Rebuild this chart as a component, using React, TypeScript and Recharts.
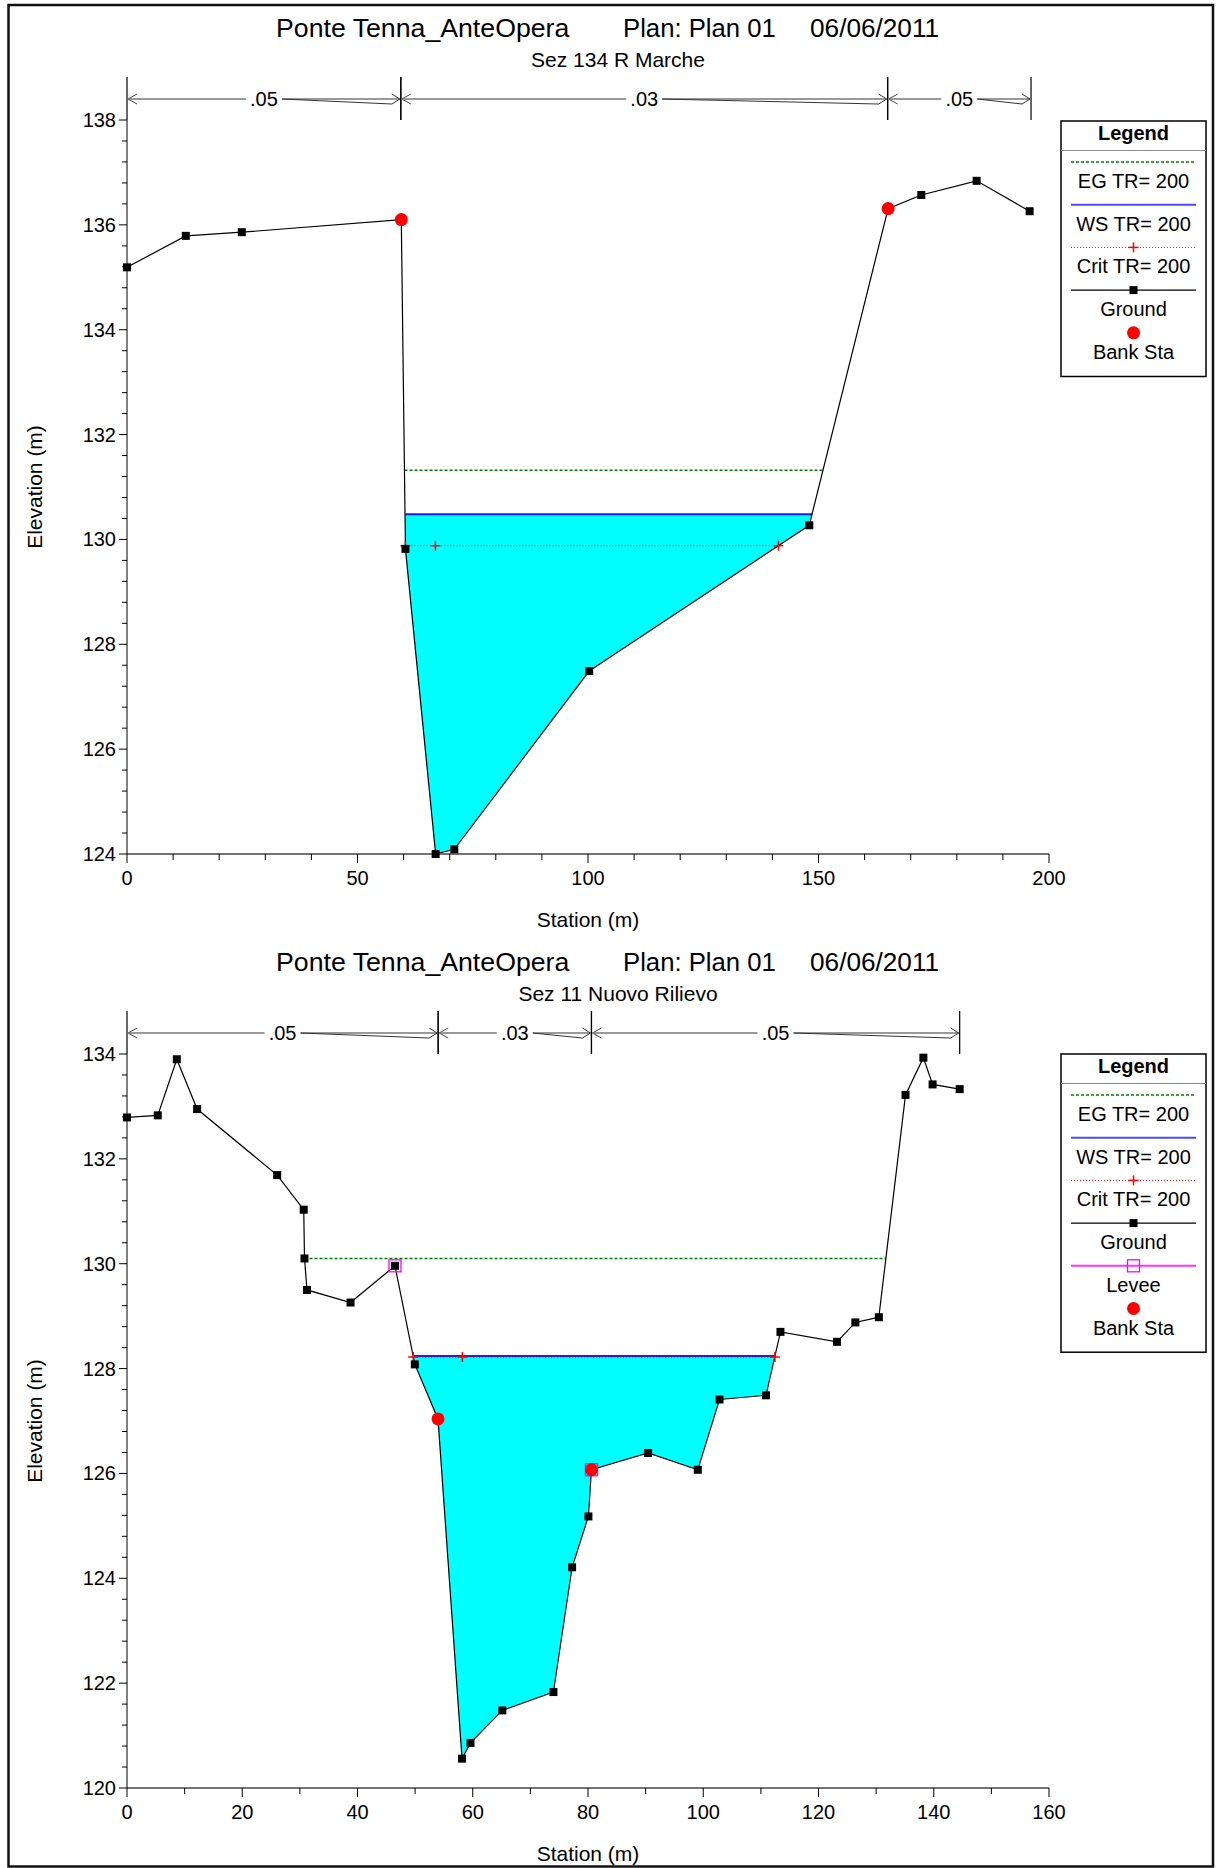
import React from 'react';
import { ComposedChart, Line, Area, XAxis, YAxis, ReferenceLine } from 'recharts';

const FONT = 'Arial, "Liberation Sans", Helvetica, sans-serif';

const PROJECT = 'Ponte Tenna_AnteOpera';
const PLAN = 'Plan: Plan 01';
const RUN_DATE = '06/06/2011';
const PROFILE = 'TR= 200';

// ---------- Sez 134 R Marche ----------
const s134Station = [0, 12.75, 24.9, 59.5, 60.4, 66.95, 71.0, 100.26, 148.0, 165.1, 172.3, 184.3, 195.8];
const s134Elev = [135.19, 135.79, 135.86, 136.1, 129.82, 124.0, 124.09, 127.49, 130.27, 136.31, 136.57, 136.84, 136.26];
const s134Banks = [59.5, 165.1];
const s134WS = 130.48;
const s134WSReach = [60.3, 148.6];
const s134EG = 131.32;
const s134EGReach = [60.2, 151.0];
const s134Crit = 129.88;
const s134CritReach = [60.39, 141.3];
const s134CritMarks = [60.39, 66.9, 141.3];
const s134NBreaks = [0, 59.4, 165.0, 196.1];
const s134NValues = ['.05', '.03', '.05'];
const s134XMajor = [0, 50, 100, 150, 200];
const s134YMajor = [124, 126, 128, 130, 132, 134, 136, 138];

// ---------- Sez 11 Nuovo Rilievo ----------
const s11Station = [0, 5.34, 8.64, 12.17, 26.06, 30.67, 30.8, 31.24, 38.79, 46.5, 49.95, 53.97, 58.14, 59.61, 65.13, 74.0, 77.24, 80.07, 80.6, 90.43, 99.05, 102.82, 110.89, 113.4, 123.2, 126.4, 130.47, 135.1, 138.2, 139.8, 144.5];
const s11Elev = [132.79, 132.83, 133.9, 132.95, 131.69, 131.03, 130.1, 129.5, 129.26, 129.96, 128.08, 127.04, 120.56, 120.86, 121.48, 121.83, 124.21, 125.18, 126.07, 126.39, 126.07, 127.41, 127.49, 128.7, 128.51, 128.88, 128.98, 133.22, 133.93, 133.42, 133.33];
const s11Banks = [53.97, 80.6];
const s11Levees = [46.5, 80.6];
const s11WS = 128.24;
const s11WSReach = [49.67, 112.44];
const s11EG = 130.1;
const s11EGReach = [30.8, 131.7];
const s11Crit = 128.22;
const s11CritReach = [49.67, 112.44];
const s11CritMarks = [49.67, 58.2, 112.44];
const s11NBreaks = [0, 54.0, 80.6, 144.5];
const s11NValues = ['.05', '.03', '.05'];
const s11XMajor = [0, 20, 40, 60, 80, 100, 120, 140, 160];
const s11YMajor = [120, 122, 124, 126, 128, 130, 132, 134];

type Pt = { x: number; y: number };

const zip = (xs: number[], ys: number[]): Pt[] => xs.map((x, i) => ({ x, y: ys[i] }));
const pick = (xs: number[], ys: number[], sel: number[]): Pt[] =>
  sel.map((s) => ({ x: s, y: ys[xs.indexOf(s)] }));
const flat = (reach: number[], level: number): Pt[] => reach.map((x) => ({ x, y: level }));
const marks = (sts: number[], level: number): Pt[] => sts.map((x) => ({ x, y: level }));
const waterBand = (xs: number[], ys: number[], reach: number[], ws: number) => [
  { x: reach[0], band: [ws, ws] },
  ...xs
    .map((x, i) => ({ x, band: [ys[i], ws] }))
    .filter((p) => p.x > reach[0] && p.x < reach[1]),
  { x: reach[1], band: [ws, ws] },
];
const stepTicks = (lo: number, hi: number, step: number) => {
  const n = Math.round((hi - lo) / step);
  return Array.from({ length: n + 1 }, (_, i) => Math.round((lo + i * step) * 1000) / 1000);
};
const isMajor = (major: number[], v: number) => major.some((m) => Math.abs(m - v) < 1e-6);

const SquareDot = (p: any) =>
  p.cx == null ? null : <rect key={p.index} x={p.cx - 4} y={p.cy - 4} width={8} height={8} fill="#000" />;
const BankDot = (p: any) =>
  p.cx == null ? null : <circle key={p.index} cx={p.cx} cy={p.cy} r={6.5} fill="#ff0000" />;
const LeveeDot = (p: any) =>
  p.cx == null ? null : (
    <rect key={p.index} x={p.cx - 6} y={p.cy - 6} width={12} height={12} fill="none" stroke="#ff00ff" strokeWidth={1.3} />
  );
const CritDot = (p: any) =>
  p.cx == null ? null : (
    <g key={p.index}>
      <line x1={p.cx - 5} y1={p.cy} x2={p.cx + 5} y2={p.cy} stroke="#ff0000" strokeWidth={1.5} />
      <line x1={p.cx} y1={p.cy - 5} x2={p.cx} y2={p.cy + 5} stroke="#ff0000" strokeWidth={1.5} />
    </g>
  );

// Manning's n span drawn above the plot between two break stations
const NSpan = (p: any) => {
  const { x1, x2, y1, label } = p;
  const y = y1;
  const cx = (x1 + x2) / 2;
  return (
    <g>
      <line x1={x1} y1={y - 22} x2={x1} y2={y + 21} stroke="#000" strokeWidth={1.2} />
      <line x1={x2} y1={y - 22} x2={x2} y2={y + 21} stroke="#000" strokeWidth={1.2} />
      <polyline points={`${x1 + 10},${y - 5} ${x1 + 1},${y} ${x1 + 10},${y + 5}`} fill="none" stroke="#444" strokeWidth={1} />
      <line x1={x1 + 1} y1={y} x2={cx - 18} y2={y} stroke="#777" strokeWidth={1.6} />
      <line x1={cx + 18} y1={y} x2={x2 - 1} y2={y} stroke="#777" strokeWidth={1.6} />
      <polyline points={`${cx + 18},${y} ${x2 - 9},${y + 5} ${x2 - 1},${y} ${x2 - 9},${y - 5}`} fill="none" stroke="#333" strokeWidth={1} />
      <text x={cx} y={y + 7} textAnchor="middle" fontSize={20} fontFamily={FONT} fill="#000">
        {label}
      </text>
    </g>
  );
};

const makeYTick = (major: number[]) => (p: any) => {
  const { x, y, payload } = p;
  const big = isMajor(major, payload.value);
  return (
    <g>
      <line x1={x - (big ? 8 : 5)} y1={y} x2={x} y2={y} stroke="#000" strokeWidth={1} />
      {big && (
        <text x={x - 11} y={y + 7} textAnchor="end" fontSize={20} fontFamily={FONT} fill="#000">
          {Math.round(payload.value)}
        </text>
      )}
    </g>
  );
};

const makeXTick = (major: number[]) => (p: any) => {
  const { x, y, payload } = p;
  const big = isMajor(major, payload.value);
  return (
    <g>
      <line x1={x} y1={y} x2={x} y2={y + (big ? 9 : 6)} stroke="#000" strokeWidth={1} />
      {big && (
        <text x={x} y={y + 31} textAnchor="middle" fontSize={20} fontFamily={FONT} fill="#000">
          {Math.round(payload.value)}
        </text>
      )}
    </g>
  );
};

type SectionProps = {
  station: number[];
  elev: number[];
  banks: number[];
  levees?: number[];
  ws: number;
  wsReach: number[];
  eg: number;
  egReach: number[];
  crit: number;
  critReach: number[];
  critMarks: number[];
  nBreaks: number[];
  nValues: string[];
  xDomain: [number, number];
  xMajor: number[];
  yDomain: [number, number];
  yMajor: number[];
};

function CrossSection(props: SectionProps) {
  const ground = zip(props.station, props.elev);
  const water = waterBand(props.station, props.elev, props.wsReach, props.ws);
  const bankPts = pick(props.station, props.elev, props.banks);
  const leveePts = props.levees ? pick(props.station, props.elev, props.levees) : [];
  const xTicks = stepTicks(props.xDomain[0], props.xDomain[1], 10);
  const yTicks = stepTicks(props.yDomain[0], props.yDomain[1], 0.4);
  const nLevel = props.yDomain[1] + 0.4;

  return (
    <ComposedChart width={1216} height={934} margin={{ top: 120, right: 167, bottom: 79, left: 126 }}>
      <XAxis
        type="number"
        dataKey="x"
        domain={props.xDomain}
        ticks={xTicks}
        interval={0}
        tickSize={0}
        tickMargin={0}
        tickLine={false}
        tick={makeXTick(props.xMajor)}
        axisLine={{ stroke: '#444', strokeWidth: 1.6 }}
        height={1}
      />
      <YAxis
        type="number"
        domain={props.yDomain}
        ticks={yTicks}
        interval={0}
        tickSize={0}
        tickMargin={0}
        tickLine={false}
        tick={makeYTick(props.yMajor)}
        axisLine={{ stroke: '#000', strokeWidth: 1 }}
        width={1}
      />
      <Area
        data={water}
        dataKey="band"
        type="linear"
        stroke="none"
        fill="#00ffff"
        fillOpacity={1}
        dot={false}
        activeDot={false}
        isAnimationActive={false}
      />
      <Line
        data={flat(props.egReach, props.eg)}
        dataKey="y"
        type="linear"
        stroke="#008000"
        strokeWidth={1.5}
        strokeDasharray="3 2"
        dot={false}
        activeDot={false}
        isAnimationActive={false}
      />
      <Line
        data={flat(props.wsReach, props.ws)}
        dataKey="y"
        type="linear"
        stroke="#1a1aff"
        strokeWidth={2}
        dot={false}
        activeDot={false}
        isAnimationActive={false}
      />
      <Line
        data={flat(props.critReach, props.crit)}
        dataKey="y"
        type="linear"
        stroke="#ff0000"
        strokeWidth={1}
        strokeDasharray="1 2"
        dot={false}
        activeDot={false}
        isAnimationActive={false}
      />
      <Line
        data={marks(props.critMarks, props.crit)}
        dataKey="y"
        type="linear"
        stroke="none"
        dot={CritDot}
        activeDot={false}
        isAnimationActive={false}
      />
      <Line
        data={ground}
        dataKey="y"
        type="linear"
        stroke="#000"
        strokeWidth={1.2}
        dot={SquareDot}
        activeDot={false}
        isAnimationActive={false}
      />
      {leveePts.length > 0 && (
        <Line
          data={leveePts}
          dataKey="y"
          type="linear"
          stroke="none"
          dot={LeveeDot}
          activeDot={false}
          isAnimationActive={false}
        />
      )}
      <Line
        data={bankPts}
        dataKey="y"
        type="linear"
        stroke="none"
        dot={BankDot}
        activeDot={false}
        isAnimationActive={false}
      />
      {props.nValues.map((v, i) => (
        <ReferenceLine
          key={`n${i}`}
          segment={[
            { x: props.nBreaks[i], y: nLevel },
            { x: props.nBreaks[i + 1], y: nLevel },
          ]}
          ifOverflow="visible"
          shape={(sp: any) => <NSpan {...sp} label={v} />}
        />
      ))}
    </ComposedChart>
  );
}

type LegendKind = 'eg' | 'ws' | 'crit' | 'ground' | 'levee' | 'bank';
const legendLabels: Record<LegendKind, string> = {
  eg: `EG ${PROFILE}`,
  ws: `WS ${PROFILE}`,
  crit: `Crit ${PROFILE}`,
  ground: 'Ground',
  levee: 'Levee',
  bank: 'Bank Sta',
};

function LegendBox({ top, kinds }: { top: number; kinds: LegendKind[] }) {
  const left = 1061;
  const w = 145;
  const cx = left + w / 2;
  const step = 42.7;
  const h = 41 + kinds.length * step + 1;
  return (
    <g fontFamily={FONT}>
      <rect x={left} y={top} width={w} height={h} fill="#fff" stroke="#000" strokeWidth={1.5} />
      <text x={cx} y={top + 19} textAnchor="middle" fontSize={20} fontWeight="bold" fill="#000">
        Legend
      </text>
      <line x1={left} y1={top + 29.5} x2={left + w} y2={top + 29.5} stroke="#888" strokeWidth={1} />
      {kinds.map((k, i) => {
        const ly = top + 41 + i * step;
        const lx1 = left + 10;
        const lx2 = left + w - 10;
        let sym: React.ReactNode = null;
        if (k === 'eg') sym = <line x1={lx1} y1={ly} x2={lx2} y2={ly} stroke="#008000" strokeWidth={1.5} strokeDasharray="3 2" />;
        if (k === 'ws') sym = <line x1={lx1} y1={ly} x2={lx2} y2={ly} stroke="#4a4aff" strokeWidth={2} />;
        if (k === 'crit')
          sym = (
            <g>
              <line x1={lx1} y1={ly} x2={lx2} y2={ly} stroke="#ff0000" strokeWidth={1} strokeDasharray="1 2" />
              <line x1={cx - 5} y1={ly} x2={cx + 5} y2={ly} stroke="#ff0000" strokeWidth={1.5} />
              <line x1={cx} y1={ly - 5} x2={cx} y2={ly + 5} stroke="#ff0000" strokeWidth={1.5} />
            </g>
          );
        if (k === 'ground')
          sym = (
            <g>
              <line x1={lx1} y1={ly} x2={lx2} y2={ly} stroke="#000" strokeWidth={1.2} />
              <rect x={cx - 4} y={ly - 4} width={8} height={8} fill="#000" />
            </g>
          );
        if (k === 'levee')
          sym = (
            <g>
              <line x1={lx1} y1={ly} x2={lx2} y2={ly} stroke="#ff33ff" strokeWidth={2} />
              <rect x={cx - 6} y={ly - 6} width={12} height={12} fill="none" stroke="#ff00ff" strokeWidth={1.3} />
            </g>
          );
        if (k === 'bank') sym = <circle cx={cx} cy={ly} r={6.5} fill="#ff0000" />;
        return (
          <g key={k}>
            {sym}
            <text x={cx} y={ly + 26} textAnchor="middle" fontSize={20} fill="#000">
              {legendLabels[k]}
            </text>
          </g>
        );
      })}
    </g>
  );
}

function Headings({ top, section }: { top: number; section: string }) {
  return (
    <g fontFamily={FONT} fill="#000">
      <text x={276} y={top + 37} fontSize={26.7}>{PROJECT}</text>
      <text x={623} y={top + 37} fontSize={25.7}>{PLAN}</text>
      <text x={810} y={top + 37} fontSize={26.2}>{RUN_DATE}</text>
      <text x={618} y={top + 67} fontSize={21} textAnchor="middle">{section}</text>
      <text x={588} y={top + 927} fontSize={21} textAnchor="middle">Station (m)</text>
      <text transform={`translate(42,${top + 487}) rotate(-90)`} fontSize={21} textAnchor="middle">
        Elevation (m)
      </text>
    </g>
  );
}

export default function App() {
  return (
    <div style={{ position: 'absolute', left: 0, top: 0, width: 1216, height: 1868, background: '#fff', overflow: 'hidden' }}>
      <div style={{ position: 'absolute', left: 0, top: 0 }}>
        <CrossSection
          station={s134Station}
          elev={s134Elev}
          banks={s134Banks}
          ws={s134WS}
          wsReach={s134WSReach}
          eg={s134EG}
          egReach={s134EGReach}
          crit={s134Crit}
          critReach={s134CritReach}
          critMarks={s134CritMarks}
          nBreaks={s134NBreaks}
          nValues={s134NValues}
          xDomain={[0, 200]}
          xMajor={s134XMajor}
          yDomain={[124, 138]}
          yMajor={s134YMajor}
        />
      </div>
      <div style={{ position: 'absolute', left: 0, top: 934 }}>
        <CrossSection
          station={s11Station}
          elev={s11Elev}
          banks={s11Banks}
          levees={s11Levees}
          ws={s11WS}
          wsReach={s11WSReach}
          eg={s11EG}
          egReach={s11EGReach}
          crit={s11Crit}
          critReach={s11CritReach}
          critMarks={s11CritMarks}
          nBreaks={s11NBreaks}
          nValues={s11NValues}
          xDomain={[0, 160]}
          xMajor={s11XMajor}
          yDomain={[120, 134]}
          yMajor={s11YMajor}
        />
      </div>
      <svg width={1216} height={1868} style={{ position: 'absolute', left: 0, top: 0, pointerEvents: 'none' }}>
        <rect x={8.5} y={5} width={1204.5} height={1861.5} fill="none" stroke="#111" strokeWidth={2.5} />
        <Headings top={0} section="Sez 134 R Marche" />
        <Headings top={934} section="Sez 11 Nuovo Rilievo" />
        <LegendBox top={121} kinds={['eg', 'ws', 'crit', 'ground', 'bank']} />
        <LegendBox top={1054} kinds={['eg', 'ws', 'crit', 'ground', 'levee', 'bank']} />
      </svg>
    </div>
  );
}
